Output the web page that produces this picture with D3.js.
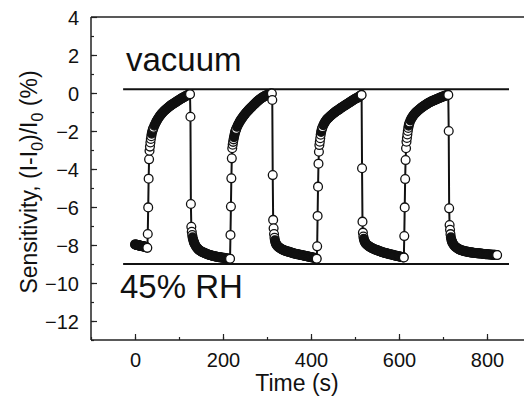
<!DOCTYPE html>
<meta charset="utf-8">
<style>
body { margin: 0; background: #fff; }
svg { display: block; font-family: Arial, "Liberation Sans", Helvetica, sans-serif; }
.axis line, .axis path { stroke: #222; }
.axis text { font-size: 20px; fill: #111; }
</style>
<body>
<svg width="524" height="398"></svg>
<script src="https://d3js.org/d3.v7.min.js"></script>
<script>

// readings: [time (s), sensitivity (%)]
var startCluster = [[0,-7.97],[1,-7.97],[2,-7.98],[3,-7.99],[4,-8.0],[5,-8.0],[6,-8.01],[7,-8.01],[8,-8.02],[9,-8.02],[10,-8.03],[11,-8.03],[12,-8.04],[13,-8.04],[14,-8.05],[15,-8.05],[16,-8.06],[17,-8.06],[18,-8.07],[19,-8.07],[20,-8.08],[21,-8.08],[22,-8.09],[23,-8.09],[24,-8.1],[25,-8.11],[26,-8.12]];

var rise1 = [[28,-8.15],[29,-7.42],[30,-6.02],[31,-4.51],[32,-3.49],[33,-3.04],[34,-2.82],[35,-2.6],[36,-2.42],[37,-2.27],[38,-2.14],[39,-2.04],[40,-1.96],[41,-1.89],[42,-1.83],[44,-1.72],[46,-1.62],[48,-1.52],[50,-1.44],[52,-1.36],[54,-1.29],[56,-1.22],[58,-1.16],[60,-1.1],[62,-1.05],[64,-1.0],[66,-0.95],[68,-0.91],[70,-0.87],[72,-0.83],[74,-0.79],[76,-0.75],[78,-0.71],[80,-0.68],[82,-0.64],[84,-0.61],[86,-0.58],[88,-0.55],[90,-0.52],[92,-0.49],[94,-0.46],[96,-0.43],[98,-0.4],[100,-0.37],[102,-0.34],[104,-0.31],[106,-0.28],[108,-0.26],[110,-0.23],[112,-0.21],[114,-0.18],[116,-0.16],[118,-0.13],[120,-0.11],[122,-0.09],[124,-0.07],[125,-0.06]];

var drop1 = [[126,-1.25],[127,-5.84],[128,-7.04],[129,-7.3],[130,-7.48],[131,-7.6],[132,-7.7],[133,-7.78],[134,-7.85],[135,-7.91],[136,-7.96],[138,-8.05],[140,-8.12],[142,-8.18],[144,-8.23],[146,-8.27],[148,-8.3],[150,-8.33],[152,-8.36],[154,-8.38],[156,-8.4],[158,-8.42],[160,-8.44],[162,-8.46],[164,-8.48],[166,-8.5],[168,-8.51],[170,-8.53],[172,-8.54],[174,-8.55],[176,-8.57],[178,-8.58],[180,-8.59],[182,-8.6],[184,-8.61],[186,-8.62],[188,-8.63],[190,-8.64],[192,-8.64],[194,-8.65],[196,-8.66],[198,-8.67],[200,-8.67],[202,-8.68],[204,-8.69],[206,-8.7],[208,-8.7],[210,-8.71],[212,-8.72],[214,-8.72],[215,-8.73]];

var rise2 = [[216,-8.72],[217,-7.47],[218,-5.98],[219,-4.49],[220,-3.44],[221,-2.91],[222,-2.72],[223,-2.57],[224,-2.44],[225,-2.32],[226,-2.21],[227,-2.1],[228,-2.02],[229,-1.95],[230,-1.89],[232,-1.78],[234,-1.68],[236,-1.59],[238,-1.51],[240,-1.43],[242,-1.36],[244,-1.3],[246,-1.23],[248,-1.17],[250,-1.11],[252,-1.05],[254,-1.0],[256,-0.95],[258,-0.9],[260,-0.85],[262,-0.8],[264,-0.76],[266,-0.71],[268,-0.66],[270,-0.62],[272,-0.57],[274,-0.53],[276,-0.48],[278,-0.44],[280,-0.4],[282,-0.36],[284,-0.33],[286,-0.29],[288,-0.26],[290,-0.23],[292,-0.2],[294,-0.18],[296,-0.15],[298,-0.13],[300,-0.11],[302,-0.09],[304,-0.07],[306,-0.06],[308,-0.04],[310,-0.03],[311,-0.03]];

var drop2 = [[312,-0.37],[313,-4.32],[314,-6.68],[315,-7.12],[316,-7.42],[317,-7.62],[318,-7.75],[319,-7.84],[320,-7.91],[321,-7.96],[322,-8.0],[324,-8.06],[326,-8.1],[328,-8.14],[330,-8.17],[332,-8.2],[334,-8.23],[336,-8.25],[338,-8.27],[340,-8.29],[342,-8.31],[344,-8.32],[346,-8.34],[348,-8.35],[350,-8.36],[352,-8.38],[354,-8.39],[356,-8.41],[358,-8.42],[360,-8.44],[362,-8.45],[364,-8.46],[366,-8.47],[368,-8.48],[370,-8.49],[372,-8.5],[374,-8.51],[376,-8.52],[378,-8.53],[380,-8.54],[382,-8.55],[384,-8.56],[386,-8.57],[388,-8.58],[390,-8.59],[392,-8.6],[394,-8.61],[396,-8.62],[398,-8.63],[400,-8.64],[402,-8.65],[404,-8.66],[406,-8.67],[408,-8.68],[410,-8.7],[412,-8.71],[413,-8.72]];

var rise3 = [[414,-8.07],[415,-6.47],[416,-4.93],[417,-3.72],[418,-3.09],[419,-2.74],[420,-2.56],[421,-2.38],[422,-2.2],[423,-2.05],[424,-1.95],[425,-1.87],[426,-1.8],[428,-1.69],[430,-1.6],[432,-1.52],[434,-1.45],[436,-1.39],[438,-1.34],[440,-1.3],[442,-1.25],[444,-1.21],[446,-1.17],[448,-1.13],[450,-1.09],[452,-1.05],[454,-1.02],[456,-0.98],[458,-0.95],[460,-0.92],[462,-0.89],[464,-0.86],[466,-0.82],[468,-0.79],[470,-0.76],[472,-0.73],[474,-0.7],[476,-0.67],[478,-0.64],[480,-0.61],[482,-0.58],[484,-0.55],[486,-0.52],[488,-0.49],[490,-0.46],[492,-0.43],[494,-0.4],[496,-0.37],[498,-0.34],[500,-0.31],[502,-0.29],[504,-0.27],[506,-0.24],[508,-0.21],[510,-0.18],[512,-0.15],[514,-0.12],[515,-0.1]];

var drop3 = [[516,-3.96],[517,-6.77],[518,-7.35],[519,-7.55],[520,-7.67],[521,-7.75],[522,-7.81],[523,-7.86],[524,-7.9],[526,-7.96],[528,-8.0],[530,-8.04],[532,-8.07],[534,-8.1],[536,-8.13],[538,-8.16],[540,-8.18],[542,-8.2],[544,-8.22],[546,-8.24],[548,-8.26],[550,-8.27],[552,-8.29],[554,-8.31],[556,-8.33],[558,-8.34],[560,-8.36],[562,-8.38],[564,-8.39],[566,-8.41],[568,-8.42],[570,-8.43],[572,-8.44],[574,-8.45],[576,-8.47],[578,-8.48],[580,-8.49],[582,-8.5],[584,-8.51],[586,-8.52],[588,-8.54],[590,-8.55],[592,-8.56],[594,-8.57],[596,-8.58],[598,-8.59],[600,-8.6],[602,-8.61],[604,-8.62],[606,-8.63],[608,-8.64],[610,-8.65],[611,-8.66]];

var rise4 = [[612,-7.53],[613,-6.02],[614,-4.53],[615,-3.53],[616,-2.91],[617,-2.56],[618,-2.37],[619,-2.18],[620,-2.0],[621,-1.84],[622,-1.72],[623,-1.63],[624,-1.55],[626,-1.44],[628,-1.35],[630,-1.27],[632,-1.2],[634,-1.14],[636,-1.08],[638,-1.03],[640,-0.99],[642,-0.95],[644,-0.91],[646,-0.87],[648,-0.83],[650,-0.79],[652,-0.76],[654,-0.72],[656,-0.69],[658,-0.66],[660,-0.63],[662,-0.6],[664,-0.57],[666,-0.54],[668,-0.51],[670,-0.49],[672,-0.46],[674,-0.44],[676,-0.42],[678,-0.4],[680,-0.38],[682,-0.36],[684,-0.34],[686,-0.32],[688,-0.3],[690,-0.28],[692,-0.26],[694,-0.24],[696,-0.22],[698,-0.2],[700,-0.19],[702,-0.17],[704,-0.15],[706,-0.14],[708,-0.12],[710,-0.11],[712,-0.1]];

var drop4 = [[713,-2.0],[714,-6.07],[715,-6.95],[716,-7.2],[717,-7.43],[718,-7.6],[719,-7.71],[720,-7.79],[721,-7.85],[722,-7.9],[724,-7.98],[726,-8.04],[728,-8.09],[730,-8.13],[732,-8.16],[734,-8.19],[736,-8.22],[738,-8.24],[740,-8.26],[742,-8.28],[744,-8.29],[746,-8.31],[748,-8.32],[750,-8.33],[752,-8.34],[754,-8.35],[756,-8.36],[758,-8.37],[760,-8.38],[762,-8.39],[764,-8.39],[766,-8.4],[768,-8.41],[770,-8.41],[772,-8.42],[774,-8.42],[776,-8.43],[778,-8.43],[780,-8.44],[782,-8.44],[784,-8.45],[786,-8.45],[788,-8.46],[790,-8.46],[792,-8.47],[794,-8.47],[796,-8.48],[798,-8.48],[800,-8.49],[802,-8.49],[804,-8.5],[806,-8.5],[808,-8.5],[810,-8.51],[812,-8.51],[814,-8.52],[816,-8.52],[818,-8.52],[820,-8.53],[822,-8.53],[823,-8.53]];

// reference levels drawn as straight lines
var vacuumLevel = 0.2, humidLevel = -9.0;
var levelSpan = [-27, 850];

var xTicks = [0, 200, 400, 600, 800];
var yTicks = [-12, -10, -8, -6, -4, -2, 0, 2, 4];

var data = [].concat(startCluster, rise1, drop1, rise2, drop2, rise3, drop3, rise4, drop4);

var svg = d3.select("svg");

var x = d3.scaleLinear().domain([-100, 900]).range([91, 531]);
var y = d3.scaleLinear().domain([-13, 4]).range([340, 17]);

// frame: top line
svg.append("line")
    .attr("x1", x(-100)).attr("x2", 524)
    .attr("y1", y(4)).attr("y2", y(4))
    .attr("stroke", "#222").attr("stroke-width", 1.5);

// x axis, ticks pointing inward
var xAxis = svg.append("g").attr("class", "axis")
    .attr("transform", "translate(0," + y(-13) + ")");
xAxis.call(d3.axisBottom(x).tickValues(d3.range(-100, 901, 100)).tickSize(-3).tickFormat(""))
    .select(".domain").remove();
xAxis.append("g")
    .call(d3.axisBottom(x).tickValues(xTicks).tickSize(-6).tickPadding(13))
    .select(".domain").remove();
xAxis.append("line").attr("x1", x(-100)).attr("x2", 524)
    .attr("stroke", "#222").attr("stroke-width", 1.5);

// y axis, ticks pointing inward
var yAxis = svg.append("g").attr("class", "axis")
    .attr("transform", "translate(" + x(-100) + ",0)");
yAxis.call(d3.axisLeft(y).tickValues(d3.range(-13, 4, 1)).tickSize(-3).tickFormat(""))
    .select(".domain").remove();
yAxis.append("g")
    .call(d3.axisLeft(y).tickValues(yTicks).tickSize(-6).tickPadding(12))
    .select(".domain").remove();
yAxis.append("line").attr("y1", y(4)).attr("y2", y(-13))
    .attr("stroke", "#222").attr("stroke-width", 1.5);
svg.selectAll(".axis .tick line").attr("stroke-width", 1.2);
svg.selectAll(".axis .tick text").attr("dy", "0.36em");
xAxis.selectAll(".tick text").attr("dy", "0.71em");

// reference lines
[vacuumLevel, humidLevel].forEach(function(v) {
  svg.append("line")
      .attr("x1", x(levelSpan[0])).attr("x2", x(levelSpan[1]))
      .attr("y1", y(v)).attr("y2", y(v))
      .attr("stroke", "#111").attr("stroke-width", 2);
});

svg.append("text").attr("x", 126).attr("y", 71)
    .attr("font-size", 33).attr("fill", "#111").text("vacuum");
svg.append("text").attr("x", 120).attr("y", 298)
    .attr("font-size", 33).attr("fill", "#111").text("45% RH");

// data line + open circles
var line = d3.line().x(function(d) { return x(d[0]); }).y(function(d) { return y(d[1]); });
svg.append("path").datum(data)
    .attr("d", line).attr("fill", "none")
    .attr("stroke", "#111").attr("stroke-width", 2);

// where the next circle sits almost on top, the overlapping outlines read as solid black
function packed(i) {
  var n = data[i + 1];
  if (!n) return false;
  var dx = x(n[0]) - x(data[i][0]), dy = y(n[1]) - y(data[i][1]);
  return Math.sqrt(dx * dx + dy * dy) < 2.2;
}

svg.append("g").selectAll("circle")
    .data(data)
    .enter().append("circle")
    .attr("cx", function(d) { return x(d[0]); })
    .attr("cy", function(d) { return y(d[1]); })
    .attr("r", 4.4)
    .attr("fill", function(d, i) { return packed(i) ? "#111" : "#fff"; })
    .attr("stroke", "#111")
    .attr("stroke-width", 1.3);

// axis titles
svg.append("text")
    .attr("x", 297).attr("y", 391)
    .attr("text-anchor", "middle").attr("font-size", 23).attr("fill", "#111")
    .text("Time (s)");

var yt = svg.append("text")
    .attr("transform", "translate(37,182) rotate(-90)")
    .attr("text-anchor", "middle").attr("font-size", 23).attr("fill", "#111");
yt.append("tspan").text("Sensitivity, (I-I");
yt.append("tspan").attr("font-size", 16).attr("dy", 6).text("0");
yt.append("tspan").attr("dy", -6).text(")/I");
yt.append("tspan").attr("font-size", 16).attr("dy", 6).text("0");
yt.append("tspan").attr("dy", -6).text(" (%)");

</script>
</body>
